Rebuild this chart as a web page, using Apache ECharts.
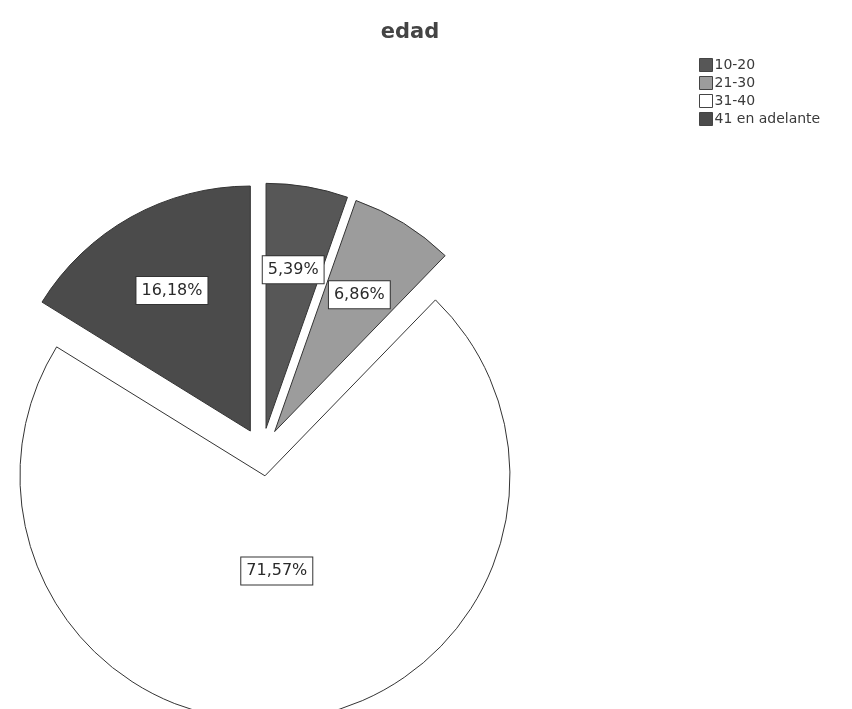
<!DOCTYPE html>
<html>
<head>
<meta charset="utf-8">
<script src="https://cdn.jsdelivr.net/npm/echarts@6/dist/echarts.min.js"></script>
<style>html,body{margin:0;padding:0;background:#fff;}#c{width:852px;height:709px;}</style>
</head>
<body>
<div id="c"></div>
<script>
const titleText = 'edad';
const categories = ['10-20', '21-30', '31-40', '41 en adelante'];
const percents = [5.39, 6.86, 71.57, 16.18];
const colors = ['#575757', '#9c9c9c', '#ffffff', '#4b4b4b'];

const center = [262, 452];
const R = 245;
const OFFSET = 24;
const fmt = v => v.toFixed(2).replace('.', ',') + '%';

const labelStyle = {
  show: true,
  position: 'inside',
  formatter: p => fmt(p.value),
  color: '#2a2a2a',
  fontFamily: 'DejaVu Sans',
  fontSize: 16,
  backgroundColor: '#fff',
  borderColor: '#333',
  borderWidth: 1,
  padding: [6, 5, 5, 5]
};

function overlay(radius, showIdx) {
  return {
    type: 'pie', silent: true, center: center, radius: radius,
    startAngle: 90, clockwise: true,
    selectedMode: 'multiple', selectedOffset: OFFSET,
    animation: false, legendHoverLink: false,
    avoidLabelOverlap: false,
    labelLayout: { hideOverlap: false },
    z: 5,
    data: categories.map((c, i) => ({
      name: c, value: percents[i], selected: true,
      itemStyle: { color: 'rgba(0,0,0,0)', borderWidth: 0 },
      label: showIdx.includes(i) ? labelStyle : { show: false }
    })),
    select: { itemStyle: { color: 'rgba(0,0,0,0)', borderWidth: 0 } },
    emphasis: { disabled: true },
    labelLine: { show: false }
  };
}

const chart = echarts.init(document.getElementById('c'), null, { renderer: 'canvas' });
chart.setOption({
  animation: false,
  color: colors,
  title: {
    text: titleText, left: 405, top: 17, textAlign: 'center',
    textStyle: { fontFamily: 'DejaVu Sans', fontSize: 21, fontWeight: 'bold', color: '#444' }
  },
  legend: {
    orient: 'vertical', left: 694, top: 53,
    itemWidth: 13, itemHeight: 13, itemGap: 4,
    icon: 'rect',
    selectedMode: false,
    textStyle: { fontFamily: 'DejaVu Sans', fontSize: 14, color: '#3a3a3a', padding: [0, 0, 0, -3] },
    itemStyle: { borderColor: '#444', borderWidth: 1 },
    data: categories
  },
  series: [
    {
      type: 'pie', center: center, radius: R,
      startAngle: 90, clockwise: true,
      selectedMode: 'multiple', selectedOffset: OFFSET,
      label: { show: false }, labelLine: { show: false },
      emphasis: { disabled: true },
      itemStyle: { borderColor: '#333', borderWidth: 1 },
      select: { itemStyle: { borderColor: '#333', borderWidth: 1 } },
      data: categories.map((c, i) => ({
        name: c, value: percents[i], selected: true,
        itemStyle: { color: colors[i] },
        select: { itemStyle: { color: colors[i] } }
      }))
    },
    overlay(316, [0, 1, 3]),
    overlay(186, [2])
  ]
});
</script>
</body>
</html>
